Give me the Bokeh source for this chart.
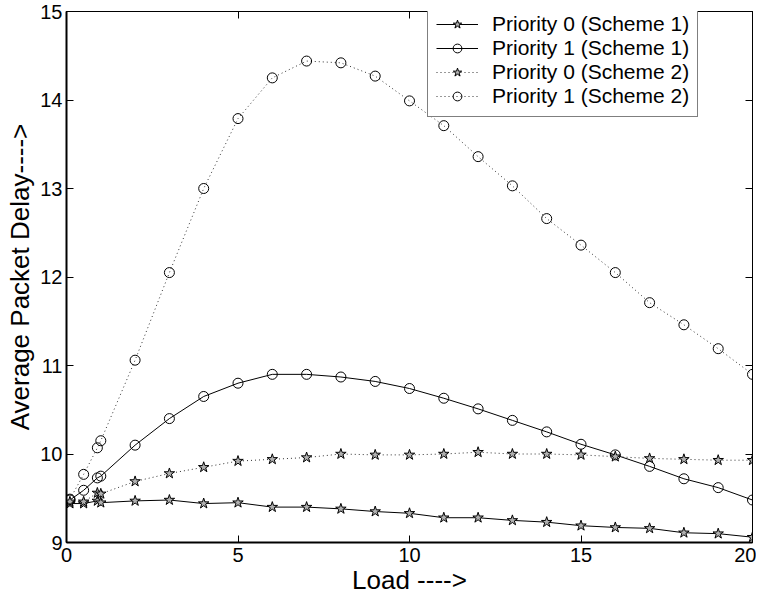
from bokeh.plotting import figure
from bokeh.models import (LinearAxis, FixedTicker, Range1d, Legend, LegendItem,
                          CustomJSTickFormatter)
from bokeh.embed import file_html
from bokeh.resources import INLINE

# ---- data ----
load = [0.1, 0.5, 0.9, 1, 2, 3, 4, 5, 6, 7, 8, 9, 10, 11, 12, 13, 14, 15, 16, 17, 18, 19, 20]
p0_s1 = [9.44, 9.44, 9.47, 9.45, 9.47, 9.48, 9.44, 9.45, 9.40, 9.40, 9.38, 9.35, 9.33,
         9.28, 9.28, 9.25, 9.23, 9.19, 9.17, 9.16, 9.11, 9.10, 9.06]
p1_s1 = [9.48, 9.59, 9.73, 9.75, 10.10, 10.40, 10.65, 10.80, 10.90, 10.90, 10.87, 10.82,
         10.74, 10.63, 10.51, 10.38, 10.25, 10.11, 9.99, 9.86, 9.72, 9.62, 9.48]
p0_s2 = [9.46, 9.46, 9.56, 9.55, 9.69, 9.78, 9.85, 9.92, 9.94, 9.96, 10.00, 9.99, 9.99,
         10.00, 10.02, 10.00, 10.00, 9.99, 9.97, 9.95, 9.94, 9.93, 9.93]
p1_s2 = [9.49, 9.77, 10.07, 10.15, 11.06, 12.05, 13.00, 13.79, 14.25, 14.44, 14.42, 14.27,
         13.99, 13.71, 13.36, 13.03, 12.66, 12.36, 12.05, 11.71, 11.46, 11.19, 10.90]
labels = ["Priority 0 (Scheme 1)", "Priority 1 (Scheme 1)",
          "Priority 0 (Scheme 2)", "Priority 1 (Scheme 2)"]
x_ticks = [0, 5, 10, 15, 20]
y_ticks = [9, 10, 11, 12, 13, 14, 15]

FONT = "Liberation Sans"
FW, FH = 686, 531

p = figure(width=756, height=599, output_backend="svg", toolbar_location=None,
           x_range=Range1d(0, 20), y_range=Range1d(9, 15),
           frame_width=FW, frame_height=FH,
           min_border_left=66, min_border_top=11, min_border_right=4, min_border_bottom=10,
           background_fill_color="white", border_fill_color="white")
p.xgrid.visible = False
p.ygrid.visible = False
p.outline_line_color = "black"
p.outline_line_width = 1

for ax in (p.xaxis[0], p.yaxis[0]):
    ax.major_tick_in = 7
    ax.major_tick_out = 0
    ax.minor_tick_in = 0
    ax.minor_tick_out = 0
    ax.axis_line_width = 2
    ax.axis_line_color = "black"
    ax.major_tick_line_color = "black"
    ax.major_label_text_font = FONT
    ax.major_label_text_font_size = "20px"
    ax.major_label_text_color = "black"
    ax.axis_label_text_font = FONT
    ax.axis_label_text_font_size = "26px"
    ax.axis_label_text_font_style = "normal"
    ax.axis_label_text_color = "black"

p.xaxis[0].ticker = FixedTicker(ticks=x_ticks)
p.yaxis[0].ticker = FixedTicker(ticks=y_ticks)
p.xaxis[0].axis_label = "Load ---->"
p.yaxis[0].axis_label = "Average Packet Delay---->"
p.xaxis[0].major_label_standoff = 5
p.yaxis[0].major_label_standoff = 4
p.xaxis[0].axis_label_standoff = 0
p.yaxis[0].axis_label_standoff = 2

blank = CustomJSTickFormatter(code="return ''")
top = LinearAxis(ticker=FixedTicker(ticks=x_ticks), formatter=blank,
                 major_tick_in=7, major_tick_out=0, minor_tick_in=0, minor_tick_out=0,
                 axis_line_color="black", major_label_text_font_size="1px",
                 major_label_standoff=0)
right = LinearAxis(ticker=FixedTicker(ticks=y_ticks), formatter=blank,
                   major_tick_in=7, major_tick_out=0, minor_tick_in=0, minor_tick_out=0,
                   axis_line_color="black", major_label_text_font_size="1px",
                   major_label_standoff=0)
p.add_layout(top, "above")
p.add_layout(right, "right")

DOT = "1 3"
series = [
    (p0_s1, "star", "solid", 11),
    (p1_s1, "circle", "solid", 10),
    (p0_s2, "star", DOT, 11),
    (p1_s2, "circle", DOT, 10),
]
items = []
for (ys, marker, dash, size), lab in zip(series, labels):
    lc = "black" if dash == "solid" else "#333333"
    lr = p.line(load, ys, line_color=lc, line_width=1, line_dash=dash)
    fc = "#b0b0b0" if marker == "star" else None
    sr = p.scatter(load, ys, marker=marker, size=size, fill_color=fc,
                   line_color="black", line_width=1)
    items.append(LegendItem(label=lab, renderers=[lr, sr]))

legend = Legend(items=items, location=(361, FH - 2 - 104), orientation="vertical",
                label_text_font=FONT, label_text_font_size="21px",
                label_text_color="black",
                padding=8, spacing=0, margin=0, label_height=22, glyph_height=22,
                glyph_width=42, label_standoff=14,
                border_line_color="black", border_line_width=1,
                background_fill_color="white", background_fill_alpha=1)
p.add_layout(legend, "center")

open("out.html", "w").write(file_html(p, INLINE))
